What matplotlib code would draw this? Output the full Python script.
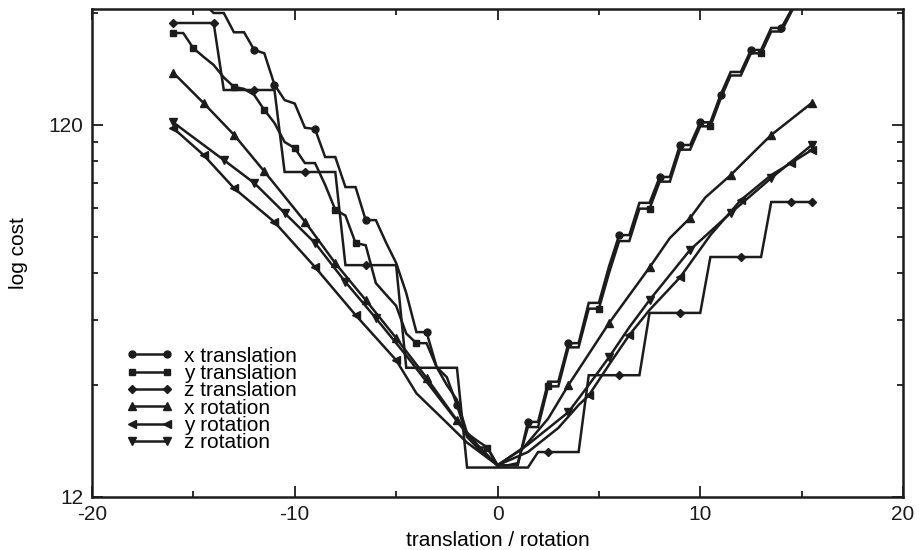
import numpy as np
import matplotlib
matplotlib.use("Agg")
import matplotlib.pyplot as plt
from matplotlib.lines import Line2D
from matplotlib.ticker import FixedLocator, NullFormatter

plt.rcParams['font.family'] = ['Liberation Sans', 'DejaVu Sans']

# common 0.5 step grid used by the x / y translation runs
x_grid = np.arange(-16, 15.75, 0.5)

x_trans = [300, 285, 270, 255, 240, 240, 213, 213, 191, 187, 154, 140, 137, 118, 117, 98.4,
           98.4, 81.7, 81.7, 66.6, 66.6, 58, 51.1, 42.4, 33.3, 33.3, 26.8, 25.2, 21.2, 17.4,
           16.3, 16.3, 14.6,
           14.6, 14.6, 19.1, 19.1, 24.5, 24.5, 31.1, 31.1, 39.9, 39.9, 50, 60.7, 60.7, 74.1,
           74.1, 87, 87, 106, 106, 122, 122, 144.5, 166.6, 166.6, 190.9, 190.9, 218.8, 218.8,
           245, 270, 300]
x_trans_marks = [-12, -11, -9, -6.5, -3.5, -2, 1.5, 3.5, 6, 8, 9, 10, 11, 12.5, 14]

y_trans = [212, 212, 193, 183, 174, 161, 152, 150, 144.5, 131.7, 121.5, 108, 104, 94.8, 94.8,
           82.8, 71, 68.5, 57.8, 57, 45.1, 42, 39.2, 33, 31.1, 31.1, 26.8, 24, 21.9, 17.8, 17,
           16.3, 14.6,
           14.6, 14.8, 18.5, 18.5, 23.8, 23.8, 30.3, 30.3, 38.5, 38.5, 48, 58.5, 58.5, 71.5,
           71.5, 84.5, 84.5, 103, 103, 119, 119, 141, 163, 163, 187, 187, 214, 214, 242, 268, 295]
y_trans_marks = [-16, -15, -13, -11.5, -10, -8, -7, -4, -0.5, 2.5, 5, 7.5, 10.5, 13]

z_trans_x = [-16, -14, -13.5, -12, -11, -10.5, -9.5, -8, -7.5, -6.5, -5, -4.5, -2, -1.5, 0,
             1.5, 2, 2.5, 4, 4.5, 6, 7, 7.5, 9, 10, 10.5, 12, 13, 13.5, 14.5, 15.5]
z_trans = [225.6, 225.6, 149, 149, 149, 89.7, 89.7, 89.7, 50.4, 50.4, 50.4, 26.7, 26.7,
           14.4, 14.4, 14.4, 15.85, 15.85, 15.85, 25.5, 25.5, 25.5, 37.5, 37.5, 37.5, 53, 53,
           53, 74.5, 74.5, 74.5]
z_trans_marks = [-16, -14, -12, -9.5, -6.5, 2.5, 6, 9, 12, 14.5, 15.5]

x_rot_x = [-16, -14.5, -13, -11.5, -9.5, -8, -6.5, -5, -3.5, -2, -1, 0,
           1.25, 2.5, 3.5, 5.5, 7.5, 8.5, 9.5, 10.25, 11.5, 12.5, 13.5, 15.5]
x_rot = [166, 137.5, 113, 90, 66, 51, 40.6, 32.1, 25.1, 19.3, 16.6, 14.6,
         16.2, 19.5, 24, 35.2, 49.7, 59.6, 67.5, 76.6, 88, 99.7, 112.8, 137.5]
x_rot_marks = [-16, -14.5, -13, -11.5, -9.5, -8, -6.5, -5, -3.5, -2,
               3.5, 5.5, 7.5, 9.5, 11.5, 13.5, 15.5]

y_rot_x = [-16, -14.5, -13, -11, -9, -7, -5, -4, -2.5, -1.5, 0,
           1.5, 3, 4, 4.5, 5.5, 6.5, 7.5, 9, 10.5, 12, 13.5, 14.5, 15.5]
y_rot = [117.8, 99.7, 81.2, 65.8, 49.8, 37.0, 28.0, 22.8, 19.0, 16.8, 14.6,
         15.85, 18.4, 21.2, 22.5, 27.2, 32.7, 38.2, 46.7, 60.7, 75.4, 88, 95, 102.8]
y_rot_marks = [-16, -14.5, -13, -11, -9, -7, -5, 4.5, 6.5, 9, 12, 14.5, 15.5]

z_rot_x = [-16, -13.5, -12, -10.5, -9, -7.5, -6, -4.5, -3.5, -2, -1, 0,
           1.5, 3, 3.5, 4.5, 5.5, 6.5, 7.5, 9.5, 11.5, 13.5, 15.5]
z_rot = [122, 96.6, 83.8, 69.6, 57.8, 45.4, 36.3, 28.8, 24.5, 19.2, 16.3, 14.6,
         16.6, 19.3, 20.3, 24.0, 28.5, 34.3, 40.6, 55.4, 69.6, 86.4, 106]
z_rot_marks = [-16, -13.5, -12, -10.5, -9, -7.5, -6, 3.5, 5.5, 7.5, 9.5, 11.5, 13.5, 15.5]

labels = ["x translation", "y translation", "z translation",
          "x rotation", "y rotation", "z rotation"]
markers = ["o", "s", "D", "^", "<", "v"]
msizes = [5, 4.5, 4.5, 6, 6, 6]

series = [
    (list(x_grid), x_trans, x_trans_marks),
    (list(x_grid), y_trans, y_trans_marks),
    (z_trans_x, z_trans, z_trans_marks),
    (x_rot_x, x_rot, x_rot_marks),
    (y_rot_x, y_rot, y_rot_marks),
    (z_rot_x, z_rot, z_rot_marks),
]

ink = "#1c1c1c"

fig = plt.figure(figsize=(9.19, 5.5), dpi=100)
ax = fig.add_axes([92 / 919, 53 / 550, 811 / 919, 488 / 550])

handles = []
for (xs, ys, marks), lab, mk, ms in zip(series, labels, markers, msizes):
    xs = [float(v) for v in xs]
    idx = [xs.index(float(m)) for m in marks]
    ax.plot(xs, ys, color=ink, lw=1.8, marker=mk, ms=ms, markevery=idx,
            solid_joinstyle="miter")
    handles.append(Line2D([], [], color=ink, lw=1.8, marker=mk, ms=ms))

ax.set_yscale("log")
ax.set_xlim(-20, 20)
ax.set_ylim(12, 246)

ax.set_xticks([-20, -10, 0, 10, 20])
ax.set_xticklabels(["-20", "-10", "0", "10", "20"])
ax.xaxis.set_minor_locator(FixedLocator([-15, -5, 5, 15]))
ax.yaxis.set_major_locator(FixedLocator([12, 120]))
ax.set_yticklabels(["12", "120"])
ax.yaxis.set_minor_locator(FixedLocator([24, 36, 48, 60, 72, 84, 96, 108, 240]))
ax.yaxis.set_minor_formatter(NullFormatter())

ax.tick_params(which="both", direction="in", top=True, right=True, colors=ink,
               labelsize=15, width=1.3)
ax.tick_params(which="major", length=8, pad=6)
ax.tick_params(which="minor", length=4)
for sp in ax.spines.values():
    sp.set_linewidth(1.8)
    sp.set_color(ink)

ax.set_xlabel("translation / rotation", fontsize=15, labelpad=5)
ax.set_ylabel("log cost", fontsize=15, labelpad=15)

leg = ax.legend(handles, labels, loc="upper left", bbox_to_anchor=(0.041, 0.308),
                frameon=False, fontsize=15, numpoints=2, handlelength=2.3,
                handletextpad=0.5, labelspacing=-0.08, borderpad=0, borderaxespad=0)

fig.savefig("out.png", dpi=100)
